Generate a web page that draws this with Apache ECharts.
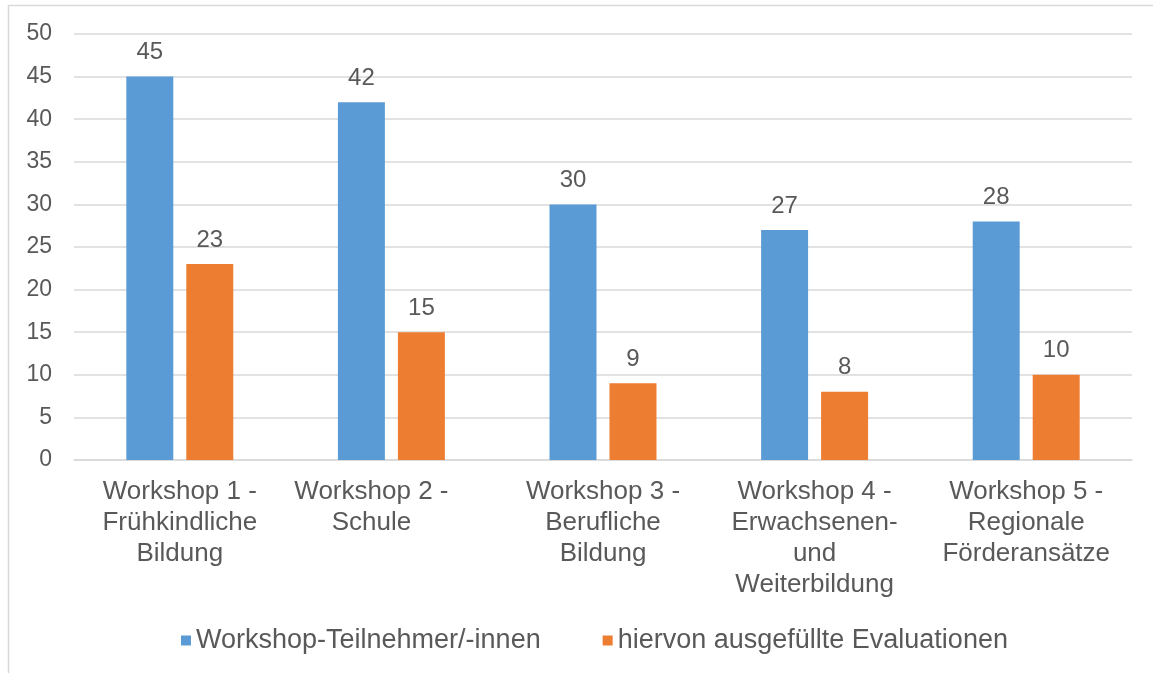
<!DOCTYPE html>
<html>
<head>
<meta charset="utf-8">
<script src="https://cdn.jsdelivr.net/npm/echarts@6/dist/echarts.min.js"></script>
<style>
  html, body { margin: 0; padding: 0; background: #fff; }
  #chart { width: 1153px; height: 673px; }
</style>
</head>
<body>
<div id="chart"></div>
<script>
// data
var categories = [
  "Workshop 1 -\nFrühkindliche\nBildung",
  "Workshop 2 -\nSchule",
  "Workshop 3 -\nBerufliche\nBildung",
  "Workshop 4 -\nErwachsenen-\nund\nWeiterbildung",
  "Workshop 5 -\nRegionale\nFörderansätze"
];
var seriesNames = ["Workshop-Teilnehmer/-innen", "hiervon ausgefüllte Evaluationen"];
var teilnehmer = [45, 42, 30, 27, 28];
var evaluationen = [23, 15, 9, 8, 10];

var textColor = "#595959";
var font = "'Liberation Sans', Arial, sans-serif";

var chart = echarts.init(document.getElementById("chart"));

// Excel puts the 2nd label a bit to the left
var catData = categories.map(function (c, i) {
  if (i === 1) {
    return { value: c, textStyle: { padding: [0, 40, 0, 0] } };
  }
  return c;
});

chart.setOption({
  animation: false,
  color: ["#5b9bd5", "#ed7d31"],
  textStyle: { fontFamily: font },
  graphic: [
    {
      type: "rect",
      shape: { x: 8.5, y: 5.5, width: 1170, height: 700 },
      style: { fill: "none", stroke: "#d9d9d9", lineWidth: 1.5 },
      silent: true
    }
  ],
  grid: {
    left: 74,
    right: 21,
    top: 34,
    bottom: 213
  },
  legend: {
    left: 176,
    top: 622,
    itemWidth: 10,
    itemHeight: 10,
    itemGap: 62,
    icon: "rect",
    textStyle: { color: textColor, fontSize: 27, fontFamily: font },
    data: seriesNames
  },
  xAxis: {
    type: "category",
    data: catData,
    axisLine: { lineStyle: { color: "#d9d9d9", width: 1.5 } },
    axisTick: { show: false },
    axisLabel: {
      color: textColor,
      fontSize: 26,
      lineHeight: 31,
      margin: 16,
      interval: 0,
      fontFamily: font
    }
  },
  yAxis: {
    type: "value",
    min: 0,
    max: 50,
    interval: 5,
    axisLine: { show: false },
    axisTick: { show: false },
    splitLine: { lineStyle: { color: "#d9d9d9", width: 1.5 } },
    axisLabel: {
      color: textColor,
      fontSize: 23,
      margin: 22,
      fontFamily: font
    }
  },
  series: [
    {
      name: seriesNames[0],
      type: "bar",
      data: teilnehmer,
      barWidth: "22.2%",
      barGap: "27.7%",
      label: {
        show: true,
        position: "top",
        distance: 12,
        color: textColor,
        fontSize: 24,
        fontFamily: font
      }
    },
    {
      name: seriesNames[1],
      type: "bar",
      data: evaluationen,
      barWidth: "22.2%",
      barGap: "27.7%",
      label: {
        show: true,
        position: "top",
        distance: 12,
        color: textColor,
        fontSize: 24,
        fontFamily: font
      }
    }
  ]
});
</script>
</body>
</html>
